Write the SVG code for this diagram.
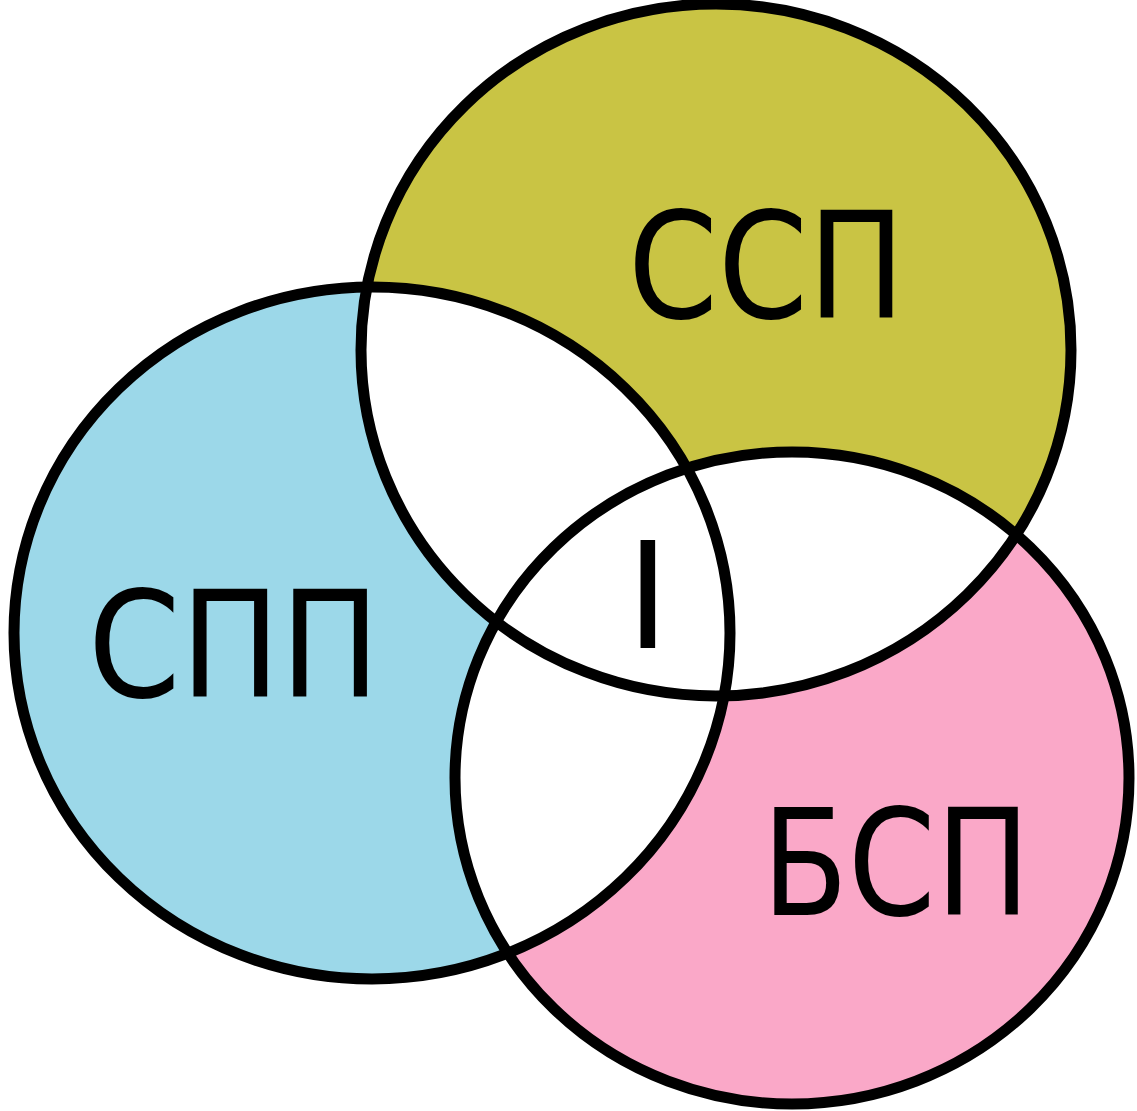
<svg xmlns="http://www.w3.org/2000/svg" width="1137" height="1111" viewBox="0 0 1137 1111">
<style>
.ring{fill:none;stroke:#000;stroke-width:11}
.lbl{font-family:"DejaVu Sans","Noto Sans",sans-serif;font-size:148px;fill:#000}
</style>
<defs>
<clipPath id="cA"><ellipse cx="372" cy="633" rx="358" ry="346"/></clipPath>
<clipPath id="cB"><ellipse cx="716" cy="350" rx="355" ry="346"/></clipPath>
<clipPath id="cC"><ellipse cx="792" cy="778" rx="337" ry="326"/></clipPath>
</defs>
<rect width="1137" height="1111" fill="#fff"/>
<g id="fills">
<ellipse cx="372" cy="633" rx="358" ry="346" fill="#9cd8e9"/>
<ellipse cx="716" cy="350" rx="355" ry="346" fill="#c9c444"/>
<ellipse cx="792" cy="778" rx="337" ry="326" fill="#faa8c8"/>
<g fill="#fff">
<ellipse cx="716" cy="350" rx="355" ry="346" clip-path="url(#cA)"/>
<ellipse cx="792" cy="778" rx="337" ry="326" clip-path="url(#cA)"/>
<ellipse cx="792" cy="778" rx="337" ry="326" clip-path="url(#cB)"/>
</g>
</g>
<g id="spp"><ellipse class="ring" cx="372" cy="633" rx="358" ry="346"/><text class="lbl" x="88" y="697" textLength="292" lengthAdjust="spacingAndGlyphs">СПП</text></g>
<g id="ssp"><ellipse class="ring" cx="716" cy="350" rx="355" ry="346"/><text class="lbl" x="628" y="318" textLength="277" lengthAdjust="spacingAndGlyphs">ССП</text></g>
<g id="bsp"><ellipse class="ring" cx="792" cy="778" rx="337" ry="326"/><text class="lbl" x="762" y="915" textLength="268" lengthAdjust="spacingAndGlyphs">БСП</text></g>
<g id="center"><text class="lbl" x="626" y="648">I</text></g>
</svg>
